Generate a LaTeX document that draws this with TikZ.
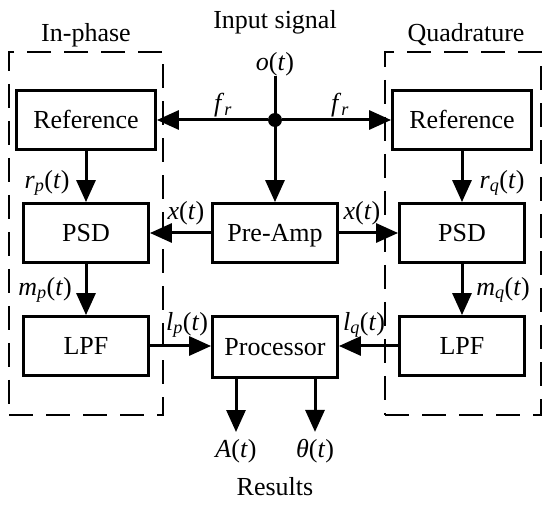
\documentclass[tikz,border=0pt]{standalone}
\usepackage{fontspec}
\setmainfont{Liberation Serif}
\usetikzlibrary{arrows.meta, positioning}
\newcommand{\sgl}[2]{\textit{#1}\textsubscript{\textit{#2}}(\textit{t})}

\begin{document}
\begin{tikzpicture}[x=1pt, y=-1pt,
  blk/.style={draw, line width=2.8pt, minimum width=125pt, minimum height=59pt,
              inner sep=0pt, text height=17pt, text depth=0pt,
              font=\fontsize{26}{30}\selectfont},
  grp/.style={draw, dash pattern=on 24pt off 13pt, line width=1.3pt, inner sep=0pt},
  lbl/.style={font=\fontsize{26}{30}\selectfont, inner sep=0pt},
  sig/.style={line width=3pt, -{Triangle[length=22pt, width=19pt]}}]
  \useasboundingbox (0,0) rectangle (550,505);

  % Dashed channel boxes
  \node[grp, minimum width=154pt, minimum height=363pt] (inph) at (86,233.5) {};
  \node[grp, minimum width=156pt, minimum height=363pt] (quad) at (463,233.5) {};
  \node[lbl] (tinph) at (86,35) {In-phase};
  \node[lbl] (tquad) at (466,35) {Quadrature};

  % Blocks
  \node[blk, minimum width=139pt] (refp) at (86,120) {Reference};
  \node[blk, minimum width=139pt] (refq) at (462,120) {Reference};
  \node[blk] (psdp) at (86,233) {PSD};
  \node[blk] (pre) at (275,233) {Pre-Amp};
  \node[blk] (psdq) at (462,233) {PSD};
  \node[blk] (lpfp) at (86,346) {LPF};
  \node[blk, minimum height=61pt] (proc) at (275,347) {Processor};
  \node[blk] (lpfq) at (462,346) {LPF};

  % Input signal and split
  \node[lbl] (title) at (275,22) {Input signal};
  \node[lbl] (ot) at (275,64) {\textit{o}(\textit{t})};
  \node[circle, fill, inner sep=0pt, minimum size=14pt] (jn) at (275,120) {};
  \draw[sig] (ot) -- (pre);
  \draw[sig] (jn) -- (refp);
  \draw[sig] (jn) -- (refq);
  \node[lbl] (frp) at (223,105) {\textit{f}\textsubscript{\textit{r}}};
  \node[lbl] (frq) at (340,105) {\textit{f}\textsubscript{\textit{r}}};

  % In-phase channel
  \draw[sig] (refp) -- (psdp);
  \draw[sig] (pre) -- (psdp);
  \draw[sig] (psdp) -- (lpfp);
  \draw[sig] (lpfp) -- (lpfp -| proc.west);
  \node[lbl] (rp) at (47,183) {\sgl{r}{p}};
  \node[lbl] (xp) at (186,213) {\textit{x}(\textit{t})};
  \node[lbl] (mp) at (45,290) {\sgl{m}{p}};
  \node[lbl] (lp) at (187,325) {\sgl{l}{p}};

  % Quadrature channel
  \draw[sig] (refq) -- (psdq);
  \draw[sig] (pre) -- (psdq);
  \draw[sig] (psdq) -- (lpfq);
  \draw[sig] (lpfq) -- (lpfq -| proc.east);
  \node[lbl] (rq) at (502,183) {\sgl{r}{q}};
  \node[lbl] (xq) at (362,213) {\textit{x}(\textit{t})};
  \node[lbl] (mq) at (503,290) {\sgl{m}{q}};
  \node[lbl] (lq) at (364,325) {\sgl{l}{q}};

  % Results
  \node[lbl] (amp) at (236,451) {\textit{A}(\textit{t})};
  \node[lbl] (pha) at (315,451) {\textit{θ}(\textit{t})};
  \draw[sig, shorten >=7pt] (proc.south -| amp) -- (amp);
  \draw[sig, shorten >=7pt] (proc.south -| pha) -- (pha);
  \node[lbl] (res) at (275,487) {Results};
\end{tikzpicture}
\end{document}
